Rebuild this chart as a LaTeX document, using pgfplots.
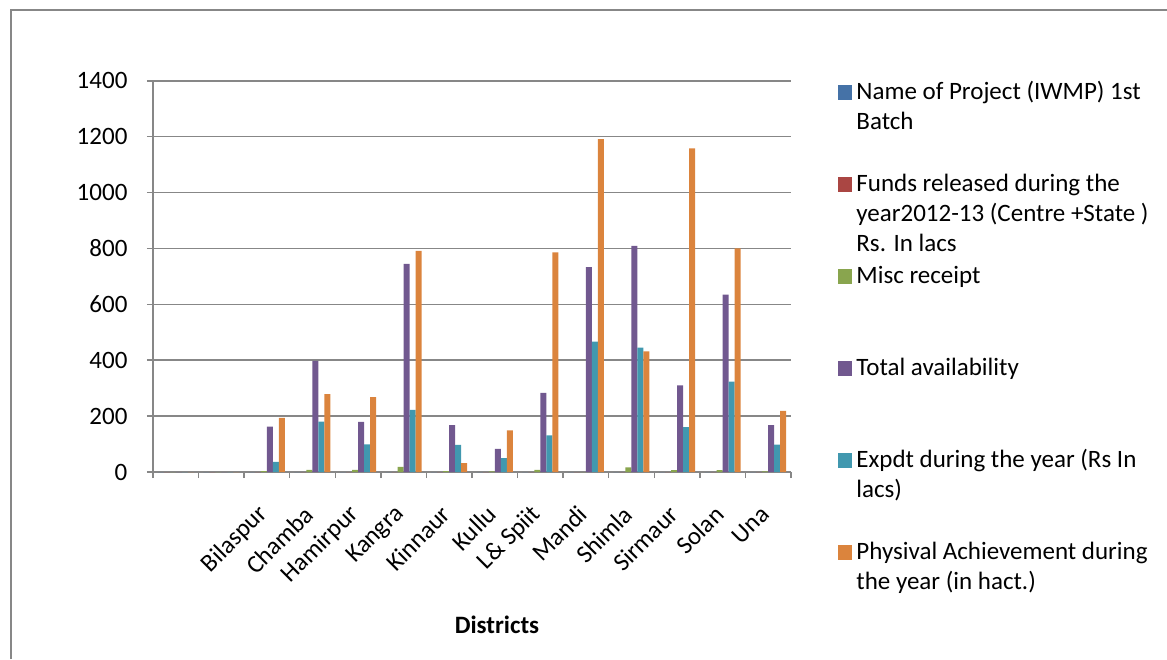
\documentclass[border=0pt]{standalone}
\usepackage{fontspec}
\setmainfont{Carlito}
\usepackage{pgfplots}
\usepackage{pgfplotstable}
\pgfplotsset{compat=1.18}

\definecolor{sBlue}{HTML}{4572A7}
\definecolor{sRed}{HTML}{AA4643}
\definecolor{sGreen}{HTML}{89A54E}
\definecolor{sPurple}{HTML}{71588F}
\definecolor{sTeal}{HTML}{4198AF}
\definecolor{sOrange}{HTML}{DB843D}
\definecolor{axgray}{HTML}{878787}

% districts 0..13 (first two categories are empty)
\pgfplotstableread{
x  name  funds misc total expdt phys
0  0     0     0    0     0     0
1  0     0     0    0     0     0
2  0     0     3    162   36    194
3  0     0     8    398   180   279
4  0     0     8    179   99    268
5  0     0     18   745   222   791
6  0     0     3    168   97    32
7  0     0     2    83    50    149
8  0     0     8    283   131   786
9  0     0     0    733   467   1191
10 0     0     17   809   445   432
11 0     0     7    310   161   1158
12 0     0     7    635   323   800
13 0     0     2    168   98    219
}\datatable

\newcommand{\legtxt}[1]{\parbox[t]{130pt}{#1}}

\begin{document}
\begin{tikzpicture}[font=\fontsize{10}{12}\selectfont]
\useasboundingbox (0,0) rectangle (466.8pt,263.6pt);
\draw[axgray, line width=0.5pt] (4.4pt,0pt) -- (4.4pt,259.6pt) -- (466.8pt,259.6pt);
\begin{axis}[
    at={(61.2pt,74.8pt)}, anchor=south west,
    scale only axis,
    width=255.2pt, height=156.5pt,
    ybar=0pt, bar width=2.4pt,
    xmin=-0.5, xmax=13.5,
    ymin=0, ymax=1400,
    ytick={0,200,...,1400},
    xtick={-0.5,0.5,...,13.5},
    xticklabels={},
    extra x ticks={0,1,...,13},
    extra x tick labels={{},{},Bilaspur,Chamba,Hamirpur,Kangra,Kinnaur,Kullu,L\& Spiit,Mandi,Shimla,Sirmaur,Solan,Una},
    extra x tick style={major tick length=0pt},
    xticklabel style={xshift=1.2pt, yshift=-12.9pt, rotate=45, anchor=east},
    yticklabel style={xshift=-4.3pt},
    /pgf/number format/assume math mode=true,
    /pgf/number format/1000 sep={},
    tick align=outside,
    major tick length=2.4pt,
    tick style={axgray, line width=0.6pt},
    axis x line*=bottom, axis y line*=left,
    axis line style={axgray, line width=0.6pt, -},
    ymajorgrids, grid style={axgray, line width=0.6pt},
    legend style={at={(1.061,1.011)}, anchor=north west, draw=none, fill=none,
        inner ysep=2pt, row sep=0pt,
        /tikz/every odd column/.append style={column sep=1.6pt},
        nodes={inner sep=0pt, text height=7pt, text depth=29.8pt}},
    legend cell align=left,
    legend image code/.code={\fill[#1] (0pt,11.2pt) rectangle (5.8pt,17.2pt);},
    every axis plot/.append style={draw=none},
]
\addplot[fill=sBlue] table[x=x, y=name] {\datatable};
\addlegendentry{\legtxt{Name of Project (IWMP) 1st\\Batch}}
\addplot[fill=sRed] table[x=x, y=funds] {\datatable};
\addlegendentry{\legtxt{Funds released during the\\year2012-13 (Centre +State )\\Rs. In lacs}}
\addplot[fill=sGreen] table[x=x, y=misc] {\datatable};
\addlegendentry{\legtxt{Misc receipt}}
\addplot[fill=sPurple] table[x=x, y=total] {\datatable};
\addlegendentry{\legtxt{Total availability}}
\addplot[fill=sTeal] table[x=x, y=expdt] {\datatable};
\addlegendentry{\legtxt{Expdt during the year (Rs In\\lacs)}}
\addplot[fill=sOrange] table[x=x, y=phys] {\datatable};
\addlegendentry{\legtxt{Physival Achievement during\\the year (in hact.)}}
\end{axis}
\node[font=\fontsize{10}{12}\bfseries] at (198.8pt,13.6pt) {Districts};
\end{tikzpicture}
\end{document}
